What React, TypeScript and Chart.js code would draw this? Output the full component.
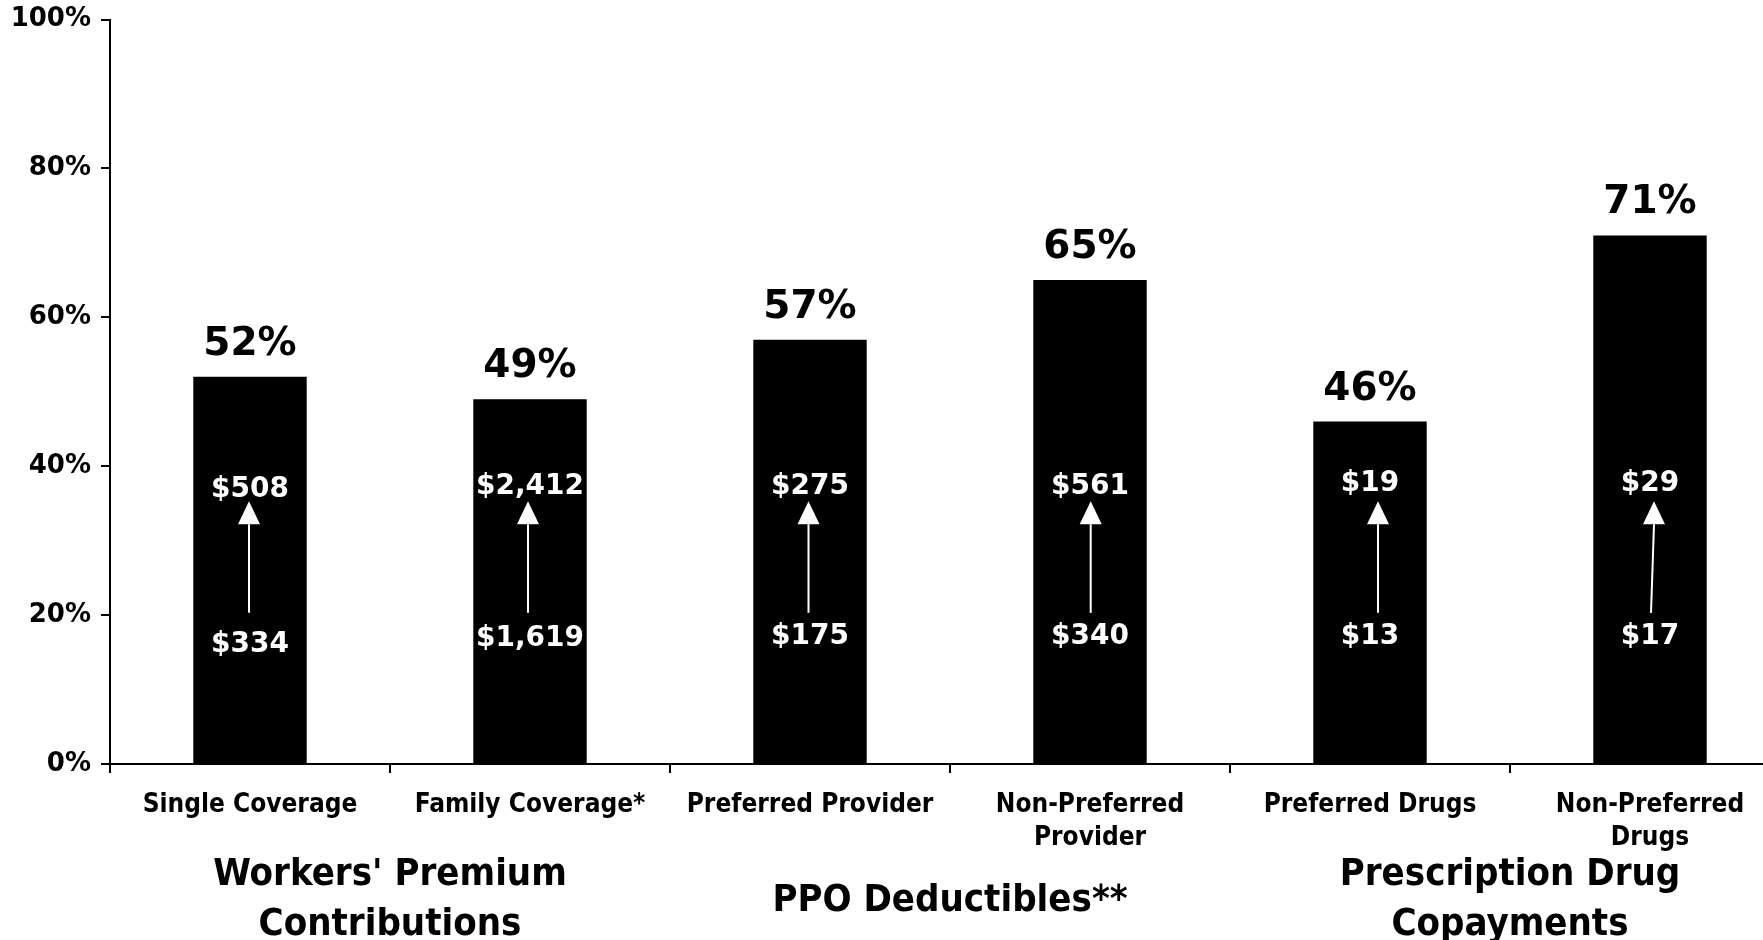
import React, { useEffect, useRef } from "react";
import { Chart, registerables } from "chart.js";

Chart.register(...registerables);

// ---- data ----
const categories: (string | string[])[] = [
  "Single Coverage",
  "Family Coverage*",
  "Preferred Provider",
  ["Non-Preferred", "Provider"],
  "Preferred Drugs",
  ["Non-Preferred", "Drugs"],
];
const percentIncrease = [52, 49, 57, 65, 46, 71];
const lowAmounts = ["$334", "$1,619", "$175", "$340", "$13", "$17"];
const highAmounts = ["$508", "$2,412", "$275", "$561", "$19", "$29"];
const groupLabels = [
  ["Workers' Premium", "Contributions"],
  ["PPO Deductibles**"],
  ["Prescription Drug", "Copayments"],
];
const yTicks = [0, 20, 40, 60, 80, 100];

// ---- styling ----
const BOLD = "'DejaVu Sans', sans-serif";
const COND = "'DejaVu Sans Condensed', 'DejaVu Sans', sans-serif";
const HIGH_AT = 36.3; // baseline of upper $ label, in axis units
const LOW_AT = 16.1; // baseline of lower $ label
const ARROW_TIP = 35.3;
const ARROW_BOTTOM = 20.3;
const LOW_DY = [8, 2, 0, 0, 0, 0];
const HIGH_DY = [3, 0, 0, 0, -3, -3];
const ARROW_DX_TOP = [-1, -2, -1.5, 0.7, 8, 4];
const ARROW_DX_BOT = [-1, -2, -1.5, 0.7, 8, 1];

const annotations = {
  id: "annotations",
  afterDatasetsDraw(chart: any) {
    const ctx = chart.ctx;
    const meta = chart.getDatasetMeta(0);
    const y = chart.scales.y;
    const x = chart.scales.x;
    ctx.save();
    meta.data.forEach((bar: any, i: number) => {
      const cx = bar.x;
      // percent label above bar
      ctx.fillStyle = "#000";
      ctx.font = `bold 39px ${BOLD}`;
      ctx.textAlign = "center";
      ctx.textBaseline = "alphabetic";
      ctx.fillText(`${percentIncrease[i]}%`, cx, bar.y - 22);
      // amounts
      ctx.fillStyle = "#fff";
      ctx.font = `bold 28px ${BOLD}`;
      ctx.fillText(highAmounts[i], cx, y.getPixelForValue(HIGH_AT) + HIGH_DY[i]);
      ctx.fillText(lowAmounts[i], cx, y.getPixelForValue(LOW_AT) + LOW_DY[i]);
      // arrow
      const tipY = y.getPixelForValue(ARROW_TIP);
      const botY = y.getPixelForValue(ARROW_BOTTOM);
      const tx = cx + ARROW_DX_TOP[i];
      const bx = cx + ARROW_DX_BOT[i];
      const headH = 23;
      const headW = 22;
      ctx.strokeStyle = "#fff";
      ctx.lineWidth = 2;
      ctx.beginPath();
      ctx.moveTo(bx, botY);
      ctx.lineTo(tx, tipY + headH);
      ctx.stroke();
      ctx.beginPath();
      ctx.moveTo(tx, tipY);
      ctx.lineTo(tx - headW / 2, tipY + headH);
      ctx.lineTo(tx + headW / 2, tipY + headH);
      ctx.closePath();
      ctx.fill();
    });
    // group labels under the axis
    ctx.fillStyle = "#000";
    ctx.font = `bold 38px ${COND}`;
    ctx.textAlign = "center";
    groupLabels.forEach((lines, g) => {
      const a = x.getPixelForValue(g * 2);
      const b = x.getPixelForValue(g * 2 + 1);
      const gx = (a + b) / 2;
      if (lines.length === 1) {
        ctx.fillText(lines[0], gx, 911);
      } else {
        ctx.fillText(lines[0], gx, 885);
        ctx.fillText(lines[1], gx, 935);
      }
    });
    ctx.restore();
  },
};

export default function App() {
  const ref = useRef<HTMLCanvasElement>(null);
  useEffect(() => {
    if (!ref.current) return;
    const chart = new Chart(ref.current, {
      type: "bar",
      data: {
        labels: categories,
        datasets: [
          {
            data: percentIncrease,
            backgroundColor: "#000",
            borderWidth: 0,
            barPercentage: 0.405,
            categoryPercentage: 1,
          },
        ],
      },
      options: {
        responsive: false,
        animation: false,
        devicePixelRatio: 1,
        layout: { padding: { top: 19.5, right: 10, left: 0, bottom: 0 } },
        plugins: {
          legend: { display: false },
          tooltip: { enabled: false },
          title: { display: false },
        },
        scales: {
          x: {
            grid: {
              display: true,
              drawOnChartArea: false,
              drawTicks: true,
              tickLength: 9,
              color: "#000",
              lineWidth: 2,
              offset: true,
            },
            border: { display: true, color: "#000", width: 2 },
            ticks: {
              color: "#000",
              font: { family: COND, size: 26, weight: "bold", lineHeight: 1.3 },
              padding: 15,
              autoSkip: false,
              maxRotation: 0,
              minRotation: 0,
            },
            afterFit(scale: any) {
              scale.height = 176;
              scale.paddingLeft = 0;
              scale.paddingRight = 0;
            },
          },
          y: {
            min: 0,
            max: 100,
            afterBuildTicks(scale: any) {
              scale.ticks = yTicks.map((v) => ({ value: v }));
            },
            grid: {
              display: true,
              drawOnChartArea: false,
              drawTicks: true,
              tickLength: 9,
              color: "#000",
              lineWidth: 2,
            },
            border: { display: true, color: "#000", width: 2 },
            ticks: {
              color: "#000",
              font: { family: BOLD, size: 26, weight: "bold" },
              padding: 10,
              callback: (v: any) => `${v}%`,
            },
            afterFit(scale: any) {
              scale.width = 110;
              scale.paddingTop = 0;
              scale.paddingBottom = 0;
            },
          },
        },
      },
      plugins: [annotations],
    });
    return () => chart.destroy();
  }, []);
  return (
    <div
      style={{
        position: "fixed",
        left: 0,
        top: 0,
        width: "100vw",
        height: "100vh",
        overflow: "hidden",
        background: "#fff",
      }}
    >
      <canvas ref={ref} width={1800} height={940} style={{ display: "block" }} />
    </div>
  );
}
